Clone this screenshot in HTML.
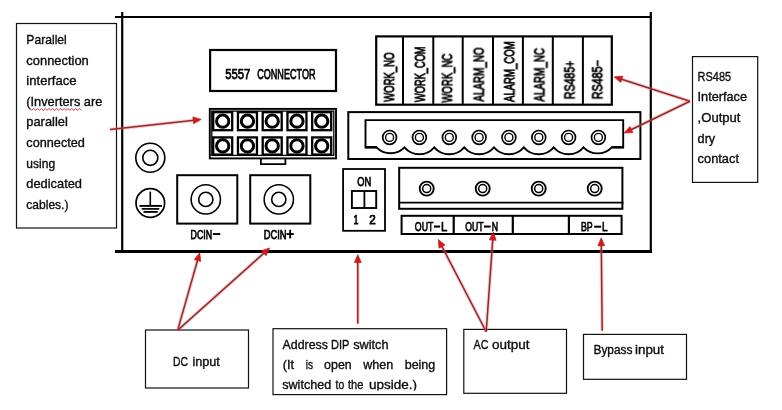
<!DOCTYPE html><html><head><meta charset="utf-8"><style>html,body{margin:0;padding:0;background:#fff;width:782px;height:410px;overflow:hidden}svg{display:block} text{will-change:transform}</style></head><body>
<svg width="782" height="410" viewBox="0 0 782 410" font-family='"Liberation Sans", sans-serif'>
<rect x="0" y="0" width="782" height="410" fill="#fff"/>
<rect x="16.5" y="23.5" width="100" height="204.5" fill="none" stroke="#111" stroke-width="1.2"/>
<text x="26.3" y="44.0" font-size="12.6" textLength="40.5" lengthAdjust="spacingAndGlyphs" fill="#0c0c0c" stroke="#0c0c0c" stroke-width="0.35" >Parallel</text>
<text x="26.3" y="64.6" font-size="12.6" textLength="62.5" lengthAdjust="spacingAndGlyphs" fill="#0c0c0c" stroke="#0c0c0c" stroke-width="0.35" >connection</text>
<text x="26.3" y="85.2" font-size="12.6" textLength="50.3" lengthAdjust="spacingAndGlyphs" fill="#0c0c0c" stroke="#0c0c0c" stroke-width="0.35" >interface</text>
<text x="26.3" y="105.80000000000001" font-size="12.6" textLength="76" lengthAdjust="spacingAndGlyphs" fill="#0c0c0c" stroke="#0c0c0c" stroke-width="0.35" >(Inverters are</text>
<text x="26.3" y="126.4" font-size="12.6" textLength="41.5" lengthAdjust="spacingAndGlyphs" fill="#0c0c0c" stroke="#0c0c0c" stroke-width="0.35" >parallel</text>
<text x="26.3" y="147.0" font-size="12.6" textLength="58.6" lengthAdjust="spacingAndGlyphs" fill="#0c0c0c" stroke="#0c0c0c" stroke-width="0.35" >connected</text>
<text x="26.3" y="167.60000000000002" font-size="12.6" textLength="28.8" lengthAdjust="spacingAndGlyphs" fill="#0c0c0c" stroke="#0c0c0c" stroke-width="0.35" >using</text>
<text x="26.3" y="188.20000000000002" font-size="12.6" textLength="55.7" lengthAdjust="spacingAndGlyphs" fill="#0c0c0c" stroke="#0c0c0c" stroke-width="0.35" >dedicated</text>
<text x="26.3" y="208.8" font-size="12.6" textLength="42.2" lengthAdjust="spacingAndGlyphs" fill="#0c0c0c" stroke="#0c0c0c" stroke-width="0.35" >cables.)</text>
<polyline points="30.0,108.5 31.9,110.3 33.8,108.5 35.7,110.3 37.6,108.5 39.5,110.3 41.4,108.5 43.3,110.3 45.2,108.5 47.1,110.3 49.0,108.5 50.9,110.3 52.8,108.5 54.7,110.3 56.6,108.5 58.5,110.3 60.4,108.5 62.3,110.3 64.2,108.5 66.1,110.3 68.0,108.5 69.9,110.3 71.8,108.5 73.7,110.3 75.6,108.5 77.5,110.3 79.4,108.5 81.3,110.3" fill="none" stroke="#b82828" stroke-width="0.9"/>
<line x1="115" y1="17" x2="652" y2="17" stroke="#000" stroke-width="2.2"/>
<line x1="122.2" y1="12" x2="122.2" y2="253" stroke="#000" stroke-width="2.2"/>
<line x1="115" y1="251.5" x2="652" y2="251.5" stroke="#000" stroke-width="3"/>
<line x1="650.8" y1="12" x2="650.8" y2="253" stroke="#000" stroke-width="2.2"/>
<rect x="210.1" y="50" width="125.9" height="41" fill="none" stroke="#000" stroke-width="2.2"/>
<text x="225.3" y="79.3" font-size="14.4" font-weight="normal" textLength="25" lengthAdjust="spacingAndGlyphs" fill="#000" stroke="#000" stroke-width="0.75" >5557</text>
<text x="257.2" y="79.3" font-size="14.4" font-weight="normal" textLength="58.3" lengthAdjust="spacingAndGlyphs" fill="#000" stroke="#000" stroke-width="0.75" >CONNECTOR</text>
<rect x="209.8" y="108.9" width="126.2" height="49.5" fill="none" stroke="#000" stroke-width="1.9"/>
<rect x="211.8" y="111.1" width="122" height="44.3" fill="none" stroke="#000" stroke-width="1.3"/>
<path d="M260.9 159 V164.2 H285.4 V159" fill="none" stroke="#000" stroke-width="1.8"/>
<rect x="213.20" y="112.2" width="19.0" height="18.0" fill="none" stroke="#000" stroke-width="2.3"/>
<circle cx="222.70" cy="121.2" r="6.15" fill="none" stroke="#000" stroke-width="3.0"/>
<rect x="213.20" y="137.4" width="19.0" height="17.2" fill="none" stroke="#000" stroke-width="2.3"/>
<circle cx="222.70" cy="145.9" r="6.15" fill="none" stroke="#000" stroke-width="3.0"/>
<rect x="237.95" y="112.2" width="19.0" height="18.0" fill="none" stroke="#000" stroke-width="2.3"/>
<circle cx="247.45" cy="121.2" r="6.15" fill="none" stroke="#000" stroke-width="3.0"/>
<rect x="237.95" y="137.4" width="19.0" height="17.2" fill="none" stroke="#000" stroke-width="2.3"/>
<circle cx="247.45" cy="145.9" r="6.15" fill="none" stroke="#000" stroke-width="3.0"/>
<rect x="262.70" y="112.2" width="19.0" height="18.0" fill="none" stroke="#000" stroke-width="2.3"/>
<circle cx="272.20" cy="121.2" r="6.15" fill="none" stroke="#000" stroke-width="3.0"/>
<rect x="262.70" y="137.4" width="19.0" height="17.2" fill="none" stroke="#000" stroke-width="2.3"/>
<circle cx="272.20" cy="145.9" r="6.15" fill="none" stroke="#000" stroke-width="3.0"/>
<rect x="287.45" y="112.2" width="19.0" height="18.0" fill="none" stroke="#000" stroke-width="2.3"/>
<circle cx="296.95" cy="121.2" r="6.15" fill="none" stroke="#000" stroke-width="3.0"/>
<rect x="287.45" y="137.4" width="19.0" height="17.2" fill="none" stroke="#000" stroke-width="2.3"/>
<circle cx="296.95" cy="145.9" r="6.15" fill="none" stroke="#000" stroke-width="3.0"/>
<rect x="312.20" y="112.2" width="19.0" height="18.0" fill="none" stroke="#000" stroke-width="2.3"/>
<circle cx="321.70" cy="121.2" r="6.15" fill="none" stroke="#000" stroke-width="3.0"/>
<rect x="312.20" y="137.4" width="19.0" height="17.2" fill="none" stroke="#000" stroke-width="2.3"/>
<circle cx="321.70" cy="145.9" r="6.15" fill="none" stroke="#000" stroke-width="3.0"/>
<circle cx="150.3" cy="157.8" r="14.5" fill="none" stroke="#000" stroke-width="1.6"/>
<circle cx="150.3" cy="157.8" r="7.55" fill="none" stroke="#000" stroke-width="1.6"/>
<circle cx="150.3" cy="203" r="14.3" fill="none" stroke="#000" stroke-width="1.7"/>
<line x1="150.3" y1="191.6" x2="150.3" y2="205.6" stroke="#000" stroke-width="1.6"/>
<line x1="139.5" y1="205.9" x2="162" y2="205.9" stroke="#000" stroke-width="1.9"/>
<line x1="141.7" y1="208.9" x2="159.3" y2="208.9" stroke="#000" stroke-width="1.7"/>
<line x1="143.5" y1="211.9" x2="157.7" y2="211.9" stroke="#000" stroke-width="1.9"/>
<rect x="177.2" y="175.2" width="60.1" height="48.4" fill="none" stroke="#000" stroke-width="2"/>
<circle cx="205.8" cy="199.4" r="14.65" fill="none" stroke="#000" stroke-width="1.6"/>
<circle cx="205.8" cy="199.4" r="7.1" fill="none" stroke="#000" stroke-width="1.6"/>
<rect x="250.2" y="175.2" width="60.1" height="48.4" fill="none" stroke="#000" stroke-width="2"/>
<circle cx="278.8" cy="199.4" r="14.65" fill="none" stroke="#000" stroke-width="1.6"/>
<circle cx="278.8" cy="199.4" r="7.1" fill="none" stroke="#000" stroke-width="1.6"/>
<rect x="343.1" y="169" width="41.9" height="61.8" fill="none" stroke="#000" stroke-width="1.8"/>
<text x="357.2" y="185.9" font-size="12.6" font-weight="normal" textLength="14" lengthAdjust="spacingAndGlyphs" fill="#000" stroke="#000" stroke-width="0.75" >ON</text>
<rect x="351.9" y="191" width="24.3" height="17" fill="none" stroke="#000" stroke-width="1.9"/>
<line x1="364.4" y1="191" x2="364.4" y2="208" stroke="#000" stroke-width="1.8"/>
<text x="353.6" y="224" font-size="12" font-weight="normal" textLength="5" lengthAdjust="spacingAndGlyphs" fill="#000" stroke="#000" stroke-width="0.75" >1</text>
<text x="369.2" y="224" font-size="12" font-weight="normal" textLength="6.5" lengthAdjust="spacingAndGlyphs" fill="#000" stroke="#000" stroke-width="0.75" >2</text>
<rect x="399.2" y="167.8" width="223.2" height="41" fill="none" stroke="#000" stroke-width="2"/>
<line x1="398.2" y1="202.6" x2="623.4" y2="202.6" stroke="#000" stroke-width="1.8"/>
<circle cx="426.7" cy="188.6" r="7.0" fill="none" stroke="#000" stroke-width="1.8"/>
<circle cx="426.7" cy="188.6" r="4.0" fill="none" stroke="#000" stroke-width="1.5"/>
<circle cx="482.7" cy="188.6" r="7.0" fill="none" stroke="#000" stroke-width="1.8"/>
<circle cx="482.7" cy="188.6" r="4.0" fill="none" stroke="#000" stroke-width="1.5"/>
<circle cx="538.7" cy="188.6" r="7.0" fill="none" stroke="#000" stroke-width="1.8"/>
<circle cx="538.7" cy="188.6" r="4.0" fill="none" stroke="#000" stroke-width="1.5"/>
<circle cx="594.7" cy="188.6" r="7.0" fill="none" stroke="#000" stroke-width="1.8"/>
<circle cx="594.7" cy="188.6" r="4.0" fill="none" stroke="#000" stroke-width="1.5"/>
<rect x="401.6" y="215.8" width="220" height="18.2" fill="none" stroke="#000" stroke-width="2"/>
<line x1="453.7" y1="215" x2="453.7" y2="235" stroke="#000" stroke-width="2.2"/>
<line x1="512.8" y1="215" x2="512.8" y2="235" stroke="#000" stroke-width="2.2"/>
<line x1="568.9" y1="215" x2="568.9" y2="235" stroke="#000" stroke-width="2.2"/>
<text x="414.8" y="231" font-size="13.2" font-weight="normal" textLength="18.6" lengthAdjust="spacingAndGlyphs" fill="#000" stroke="#000" stroke-width="0.75" >OUT</text>
<rect x="434" y="225.5" width="6.1" height="2.1" fill="#000"/>
<text x="441.1" y="231" font-size="13.2" font-weight="normal" textLength="6.3" lengthAdjust="spacingAndGlyphs" fill="#000" stroke="#000" stroke-width="0.75" >L</text>
<text x="465.2" y="231" font-size="13.2" font-weight="normal" textLength="18.3" lengthAdjust="spacingAndGlyphs" fill="#000" stroke="#000" stroke-width="0.75" >OUT</text>
<rect x="484" y="225.5" width="6.6" height="2.1" fill="#000"/>
<text x="491.7" y="231" font-size="13.2" font-weight="normal" textLength="6.3" lengthAdjust="spacingAndGlyphs" fill="#000" stroke="#000" stroke-width="0.75" >N</text>
<text x="580.9" y="230.8" font-size="13.2" font-weight="normal" textLength="11.7" lengthAdjust="spacingAndGlyphs" fill="#000" stroke="#000" stroke-width="0.75" >BP</text>
<rect x="594.2" y="225.7" width="6.9" height="2.0" fill="#000"/>
<text x="601.9" y="230.8" font-size="13.2" font-weight="normal" textLength="5.6" lengthAdjust="spacingAndGlyphs" fill="#000" stroke="#000" stroke-width="0.75" >L</text>
<text x="190.6" y="238.6" font-size="12.2" font-weight="normal" textLength="21.6" lengthAdjust="spacingAndGlyphs" fill="#000" stroke="#000" stroke-width="0.75" >DCIN</text>
<rect x="212.9" y="233.1" width="7.4" height="1.9" fill="#000"/>
<text x="263.7" y="238.6" font-size="12.2" font-weight="normal" textLength="22.8" lengthAdjust="spacingAndGlyphs" fill="#000" stroke="#000" stroke-width="0.75" >DCIN</text>
<rect x="286.5" y="233.1" width="7.3" height="1.9" fill="#000"/>
<rect x="289.2" y="229.8" width="1.9" height="8.6" fill="#000"/>
<rect x="348.3" y="112.1" width="292.1" height="46.9" fill="none" stroke="#000" stroke-width="2"/>
<rect x="376.2" y="36.4" width="235.6" height="68.3" fill="none" stroke="#000" stroke-width="2.2"/>
<line x1="403.0" y1="36" x2="403.0" y2="105" stroke="#000" stroke-width="2"/>
<line x1="433.3" y1="36" x2="433.3" y2="105" stroke="#000" stroke-width="2"/>
<line x1="462.7" y1="36" x2="462.7" y2="105" stroke="#000" stroke-width="2"/>
<line x1="493.0" y1="36" x2="493.0" y2="105" stroke="#000" stroke-width="2"/>
<line x1="522.9" y1="36" x2="522.9" y2="105" stroke="#000" stroke-width="2"/>
<line x1="552.8" y1="36" x2="552.8" y2="105" stroke="#000" stroke-width="2"/>
<line x1="582.9" y1="36" x2="582.9" y2="105" stroke="#000" stroke-width="2"/>
<path d="M376.5 147.3 H365.5 V120.1 H623.2 V147.3 H611.8 A19.5 19.5 0 0 1 583.5 147.3 A19.5 19.5 0 0 1 553.7 147.3 A19.5 19.5 0 0 1 523.8 147.3 A19.5 19.5 0 0 1 494.0 147.3 A19.5 19.5 0 0 1 464.2 147.3 A19.5 19.5 0 0 1 434.3 147.3 A19.5 19.5 0 0 1 404.5 147.3 A19.5 19.5 0 0 1 376.5 147.3" fill="none" stroke="#000" stroke-width="1.9"/>
<line x1="365" y1="147.3" x2="377" y2="147.3" stroke="#000" stroke-width="2.4"/>
<line x1="611.5" y1="147.3" x2="624" y2="147.3" stroke="#000" stroke-width="2.4"/>
<circle cx="389.6" cy="137.4" r="6.9" fill="none" stroke="#000" stroke-width="1.7"/>
<circle cx="389.6" cy="137.4" r="4.0" fill="none" stroke="#000" stroke-width="1.4"/>
<circle cx="419.4" cy="137.4" r="6.9" fill="none" stroke="#000" stroke-width="1.7"/>
<circle cx="419.4" cy="137.4" r="4.0" fill="none" stroke="#000" stroke-width="1.4"/>
<circle cx="449.3" cy="137.4" r="6.9" fill="none" stroke="#000" stroke-width="1.7"/>
<circle cx="449.3" cy="137.4" r="4.0" fill="none" stroke="#000" stroke-width="1.4"/>
<circle cx="479.1" cy="137.4" r="6.9" fill="none" stroke="#000" stroke-width="1.7"/>
<circle cx="479.1" cy="137.4" r="4.0" fill="none" stroke="#000" stroke-width="1.4"/>
<circle cx="508.9" cy="137.4" r="6.9" fill="none" stroke="#000" stroke-width="1.7"/>
<circle cx="508.9" cy="137.4" r="4.0" fill="none" stroke="#000" stroke-width="1.4"/>
<circle cx="538.8" cy="137.4" r="6.9" fill="none" stroke="#000" stroke-width="1.7"/>
<circle cx="538.8" cy="137.4" r="4.0" fill="none" stroke="#000" stroke-width="1.4"/>
<circle cx="568.6" cy="137.4" r="6.9" fill="none" stroke="#000" stroke-width="1.7"/>
<circle cx="568.6" cy="137.4" r="4.0" fill="none" stroke="#000" stroke-width="1.4"/>
<circle cx="598.4" cy="137.4" r="6.9" fill="none" stroke="#000" stroke-width="1.7"/>
<circle cx="598.4" cy="137.4" r="4.0" fill="none" stroke="#000" stroke-width="1.4"/>
<text x="0" y="0" font-size="13.8" font-weight="normal" textLength="49.4" lengthAdjust="spacingAndGlyphs" fill="#000" stroke="#000" stroke-width="0.85" transform="translate(394.1,101.8) rotate(-90)">WORK_NO</text>
<text x="0" y="0" font-size="13.8" font-weight="normal" textLength="55.6" lengthAdjust="spacingAndGlyphs" fill="#000" stroke="#000" stroke-width="0.85" transform="translate(424.90000000000003,102.1) rotate(-90)">WORK_COM</text>
<text x="0" y="0" font-size="13.8" font-weight="normal" textLength="49" lengthAdjust="spacingAndGlyphs" fill="#000" stroke="#000" stroke-width="0.85" transform="translate(452.1,102.6) rotate(-90)">WORK_NC</text>
<text x="0" y="0" font-size="13.8" font-weight="normal" textLength="54.2" lengthAdjust="spacingAndGlyphs" fill="#000" stroke="#000" stroke-width="0.85" transform="translate(483.70000000000005,101.6) rotate(-90)">ALARM_NO</text>
<text x="0" y="0" font-size="13.8" font-weight="normal" textLength="60.7" lengthAdjust="spacingAndGlyphs" fill="#000" stroke="#000" stroke-width="0.85" transform="translate(514.3000000000001,102) rotate(-90)">ALARM_COM</text>
<text x="0" y="0" font-size="13.8" font-weight="normal" textLength="53.6" lengthAdjust="spacingAndGlyphs" fill="#000" stroke="#000" stroke-width="0.85" transform="translate(544.3000000000001,101.6) rotate(-90)">ALARM_NC</text>
<text x="0" y="0" font-size="13.8" font-weight="normal" textLength="38.5" lengthAdjust="spacingAndGlyphs" fill="#000" stroke="#000" stroke-width="0.85" transform="translate(574.5,99.2) rotate(-90)">RS485+</text>
<text x="0" y="0" font-size="13.8" font-weight="normal" textLength="38.9" lengthAdjust="spacingAndGlyphs" fill="#000" stroke="#000" stroke-width="0.85" transform="translate(602.3000000000001,99.2) rotate(-90)">RS485−</text>
<rect x="692.5" y="56.6" width="65.2" height="125.8" fill="none" stroke="#111" stroke-width="1.2"/>
<text x="697.6" y="80.7" font-size="12.6" textLength="33.6" lengthAdjust="spacingAndGlyphs" fill="#0c0c0c" stroke="#0c0c0c" stroke-width="0.35" >RS485</text>
<text x="697.6" y="101.30000000000001" font-size="12.6" textLength="49.4" lengthAdjust="spacingAndGlyphs" fill="#0c0c0c" stroke="#0c0c0c" stroke-width="0.35" >Interface</text>
<text x="697.6" y="121.9" font-size="12.6" textLength="42.9" lengthAdjust="spacingAndGlyphs" fill="#0c0c0c" stroke="#0c0c0c" stroke-width="0.35" >,Output</text>
<text x="697.6" y="142.5" font-size="12.6" textLength="17.6" lengthAdjust="spacingAndGlyphs" fill="#0c0c0c" stroke="#0c0c0c" stroke-width="0.35" >dry</text>
<text x="697.6" y="163.10000000000002" font-size="12.6" textLength="41.4" lengthAdjust="spacingAndGlyphs" fill="#0c0c0c" stroke="#0c0c0c" stroke-width="0.35" >contact</text>
<rect x="145.5" y="330" width="103" height="58" fill="none" stroke="#111" stroke-width="1.2"/>
<text x="172.9" y="365.5" font-size="12.6" textLength="15" lengthAdjust="spacingAndGlyphs" fill="#0c0c0c" stroke="#0c0c0c" stroke-width="0.35" >DC</text>
<text x="192.4" y="365.5" font-size="12.6" textLength="27.5" lengthAdjust="spacingAndGlyphs" fill="#0c0c0c" stroke="#0c0c0c" stroke-width="0.35" >input</text>
<rect x="273" y="328.7" width="173.6" height="65.9" fill="none" stroke="#111" stroke-width="1.2"/>
<text x="282.6" y="349.2" font-size="12.6" textLength="45.3" lengthAdjust="spacingAndGlyphs" fill="#0c0c0c" stroke="#0c0c0c" stroke-width="0.35" >Address</text>
<text x="331" y="349.2" font-size="12.6" textLength="18.4" lengthAdjust="spacingAndGlyphs" fill="#0c0c0c" stroke="#0c0c0c" stroke-width="0.35" >DIP</text>
<text x="353.2" y="349.2" font-size="12.6" textLength="35.3" lengthAdjust="spacingAndGlyphs" fill="#0c0c0c" stroke="#0c0c0c" stroke-width="0.35" >switch</text>
<text x="282.7" y="369.2" font-size="12.6" textLength="11.4" lengthAdjust="spacingAndGlyphs" fill="#0c0c0c" stroke="#0c0c0c" stroke-width="0.35" >(It</text>
<text x="305.8" y="369.2" font-size="12.6" textLength="7.3" lengthAdjust="spacingAndGlyphs" fill="#0c0c0c" stroke="#0c0c0c" stroke-width="0.35" >is</text>
<text x="324.1" y="369.2" font-size="12.6" textLength="27.6" lengthAdjust="spacingAndGlyphs" fill="#0c0c0c" stroke="#0c0c0c" stroke-width="0.35" >open</text>
<text x="363.2" y="369.2" font-size="12.6" textLength="30" lengthAdjust="spacingAndGlyphs" fill="#0c0c0c" stroke="#0c0c0c" stroke-width="0.35" >when</text>
<text x="404.7" y="369.2" font-size="12.6" textLength="30.6" lengthAdjust="spacingAndGlyphs" fill="#0c0c0c" stroke="#0c0c0c" stroke-width="0.35" >being</text>
<clipPath id="cp"><rect x="273" y="328" width="174" height="62.6"/></clipPath>
<text x="282.2" y="389" font-size="12.6" textLength="49.1" lengthAdjust="spacingAndGlyphs" fill="#0c0c0c" stroke="#0c0c0c" stroke-width="0.35" clip-path="url(#cp)">switched</text>
<text x="335.5" y="389" font-size="12.6" textLength="8.7" lengthAdjust="spacingAndGlyphs" fill="#0c0c0c" stroke="#0c0c0c" stroke-width="0.35" clip-path="url(#cp)">to</text>
<text x="348" y="389" font-size="12.6" textLength="15.4" lengthAdjust="spacingAndGlyphs" fill="#0c0c0c" stroke="#0c0c0c" stroke-width="0.35" clip-path="url(#cp)">the</text>
<text x="369.1" y="389" font-size="12.6" textLength="48" lengthAdjust="spacingAndGlyphs" fill="#0c0c0c" stroke="#0c0c0c" stroke-width="0.35" clip-path="url(#cp)">upside.)</text>
<rect x="463.8" y="329.4" width="102.7" height="63.9" fill="none" stroke="#111" stroke-width="1.2"/>
<text x="473.5" y="348.9" font-size="12.6" textLength="15" lengthAdjust="spacingAndGlyphs" fill="#0c0c0c" stroke="#0c0c0c" stroke-width="0.35" >AC</text>
<text x="492" y="348.9" font-size="12.6" textLength="37.5" lengthAdjust="spacingAndGlyphs" fill="#0c0c0c" stroke="#0c0c0c" stroke-width="0.35" >output</text>
<rect x="583.5" y="334.4" width="103" height="44.9" fill="none" stroke="#111" stroke-width="1.2"/>
<text x="593.5" y="354.1" font-size="12.6" textLength="39" lengthAdjust="spacingAndGlyphs" fill="#0c0c0c" stroke="#0c0c0c" stroke-width="0.35" >Bypass</text>
<text x="635" y="354.1" font-size="12.6" textLength="29" lengthAdjust="spacingAndGlyphs" fill="#0c0c0c" stroke="#0c0c0c" stroke-width="0.35" >input</text>
<line x1="110" y1="129.6" x2="194.24" y2="120.18" stroke="#f07070" stroke-opacity="0.35" stroke-width="3.6"/>
<line x1="110" y1="129.6" x2="194.24" y2="120.18" stroke="#8e2a2c" stroke-width="1.5"/>
<polygon points="201.20,119.40 193.63,123.67 192.87,116.91" fill="#e01414" stroke="#a82222" stroke-width="0.7"/>
<line x1="690" y1="101.2" x2="620.77" y2="79.03" stroke="#f07070" stroke-opacity="0.35" stroke-width="3.6"/>
<line x1="690" y1="101.2" x2="620.77" y2="79.03" stroke="#8e2a2c" stroke-width="1.5"/>
<polygon points="614.10,76.90 622.76,76.10 620.68,82.58" fill="#e01414" stroke="#a82222" stroke-width="0.7"/>
<line x1="690" y1="101.2" x2="630.50" y2="129.95" stroke="#f07070" stroke-opacity="0.35" stroke-width="3.6"/>
<line x1="690" y1="101.2" x2="630.50" y2="129.95" stroke="#8e2a2c" stroke-width="1.5"/>
<polygon points="624.20,133.00 629.92,126.46 632.88,132.58" fill="#e01414" stroke="#a82222" stroke-width="0.7"/>
<line x1="177.6" y1="330.4" x2="197.78" y2="259.53" stroke="#f07070" stroke-opacity="0.35" stroke-width="3.6"/>
<line x1="177.6" y1="330.4" x2="197.78" y2="259.53" stroke="#8e2a2c" stroke-width="1.5"/>
<polygon points="199.70,252.80 200.78,261.43 194.24,259.56" fill="#e01414" stroke="#a82222" stroke-width="0.7"/>
<line x1="177.6" y1="330.4" x2="264.49" y2="252.57" stroke="#f07070" stroke-opacity="0.35" stroke-width="3.6"/>
<line x1="177.6" y1="330.4" x2="264.49" y2="252.57" stroke="#8e2a2c" stroke-width="1.5"/>
<polygon points="269.70,247.90 266.01,255.77 261.47,250.71" fill="#e01414" stroke="#a82222" stroke-width="0.7"/>
<line x1="357.8" y1="323.7" x2="357.80" y2="261.60" stroke="#f07070" stroke-opacity="0.35" stroke-width="3.6"/>
<line x1="357.8" y1="323.7" x2="357.80" y2="261.60" stroke="#8e2a2c" stroke-width="1.5"/>
<polygon points="357.80,254.60 361.20,262.60 354.40,262.60" fill="#e01414" stroke="#a82222" stroke-width="0.7"/>
<line x1="486.2" y1="331.7" x2="441.53" y2="245.71" stroke="#f07070" stroke-opacity="0.35" stroke-width="3.6"/>
<line x1="486.2" y1="331.7" x2="441.53" y2="245.71" stroke="#8e2a2c" stroke-width="1.5"/>
<polygon points="438.30,239.50 445.01,245.03 438.97,248.17" fill="#e01414" stroke="#a82222" stroke-width="0.7"/>
<line x1="486.2" y1="331.7" x2="492.80" y2="239.08" stroke="#f07070" stroke-opacity="0.35" stroke-width="3.6"/>
<line x1="486.2" y1="331.7" x2="492.80" y2="239.08" stroke="#8e2a2c" stroke-width="1.5"/>
<polygon points="493.30,232.10 496.12,240.32 489.34,239.84" fill="#e01414" stroke="#a82222" stroke-width="0.7"/>
<line x1="602.2" y1="330.7" x2="601.28" y2="244.80" stroke="#f07070" stroke-opacity="0.35" stroke-width="3.6"/>
<line x1="602.2" y1="330.7" x2="601.28" y2="244.80" stroke="#8e2a2c" stroke-width="1.5"/>
<polygon points="601.20,237.80 604.69,245.76 597.89,245.84" fill="#e01414" stroke="#a82222" stroke-width="0.7"/>
</svg></body></html>
